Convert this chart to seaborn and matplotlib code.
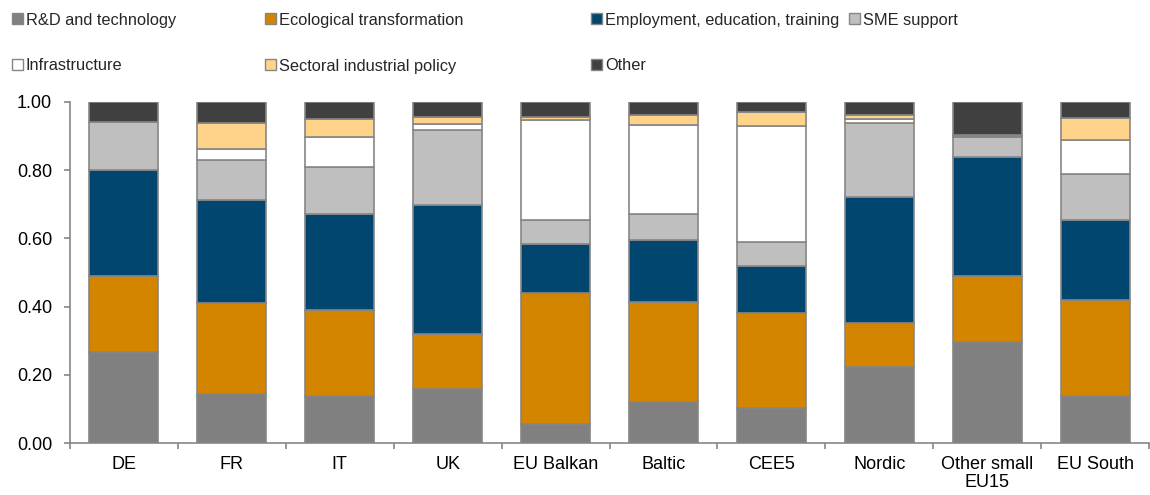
import matplotlib
matplotlib.use("Agg")
import matplotlib.pyplot as plt
import seaborn as sns
import numpy as np
from matplotlib.ticker import FixedLocator, FormatStrFormatter
from matplotlib.patches import Patch

sns.set_theme(style="white")
plt.rcParams['font.family'] = ['Liberation Sans', 'DejaVu Sans']

# 数据（各地区各类别占比）
regions = ['DE', 'FR', 'IT', 'UK', 'EU Balkan', 'Baltic', 'CEE5', 'Nordic',
           'Other small\nEU15', 'EU South']
rd = [0.267, 0.143, 0.139, 0.159, 0.057, 0.121, 0.104, 0.222, 0.296, 0.139]
eco = [0.223, 0.267, 0.251, 0.161, 0.384, 0.293, 0.277, 0.129, 0.194, 0.279]
employment = [0.310, 0.302, 0.281, 0.378, 0.143, 0.180, 0.139, 0.371, 0.349, 0.237]
sme = [0.140, 0.119, 0.139, 0.220, 0.071, 0.079, 0.070, 0.217, 0.057, 0.133]
infra = [0.000, 0.030, 0.088, 0.017, 0.292, 0.261, 0.339, 0.010, 0.004, 0.102]
sectoral = [0.000, 0.078, 0.053, 0.022, 0.010, 0.029, 0.042, 0.014, 0.004, 0.063]
other = [0.060, 0.061, 0.049, 0.043, 0.043, 0.037, 0.029, 0.037, 0.096, 0.047]

series = [
    ('R&D and technology', rd, '#808080'),
    ('Ecological transformation', eco, '#D38500'),
    ('Employment, education, training', employment, '#00466E'),
    ('SME support', sme, '#BFBFBF'),
    ('Infrastructure', infra, '#FFFFFF'),
    ('Sectoral industrial policy', sectoral, '#FFD38A'),
    ('Other', other, '#404040'),
]

edge = '#868686'
fig = plt.figure(figsize=(11.5, 4.95), dpi=100)
ax = fig.add_axes([70 / 1150, 1 - 443 / 495, 1079 / 1150, 341 / 495])

bottom = np.zeros(len(regions))
for name, vals, col in series:
    sns.barplot(x=regions, y=vals, order=regions, bottom=bottom, color=col,
                width=0.64, edgecolor=edge, linewidth=1.2, errorbar=None,
                saturation=1, ax=ax)
    bottom = bottom + np.array(vals)

# 坐标轴
ax.set_xlim(-0.5, len(regions) - 0.5)
ax.set_ylim(0, 1.0)
ax.yaxis.set_major_locator(FixedLocator(np.arange(0, 1.01, 0.2)))
ax.yaxis.set_major_formatter(FormatStrFormatter('%.2f'))
ax.xaxis.set_minor_locator(FixedLocator(np.arange(-0.5, len(regions), 1.0)))
ax.tick_params(axis='x', which='major', length=0, pad=9.5, labelsize=13, colors='black')
ax.tick_params(axis='x', which='minor', length=4, width=1.2, color=edge, direction='out', bottom=True)
ax.tick_params(axis='y', length=4.3, width=1.2, color=edge, direction='out', left=True,
               labelsize=13, pad=8.5)
for lbl in ax.get_xticklabels() + ax.get_yticklabels():
    lbl.set_color('black')
    lbl.set_linespacing(1.1)
sns.despine(ax=ax)
for s in ['left', 'bottom']:
    ax.spines[s].set_color(edge)
    ax.spines[s].set_linewidth(1.2)
ax.set_xlabel('')
ax.set_ylabel('')
ax.grid(False)

# 图例（手动摆放，模仿原图的不等列宽）
leg_pos = [(12, 20), (265, 20), (591, 20), (849, 20),
           (12, 66), (265, 66), (591, 66)]
for (name, vals, col), (px, py) in zip(series, leg_pos):
    h = Patch(facecolor=col, edgecolor=edge, linewidth=1.0)
    fig.legend([h], [name], loc='center left',
               bbox_to_anchor=(px / 1150, 1 - py / 495), frameon=False,
               fontsize=11.8, handlelength=0.65, handleheight=0.65,
               handletextpad=0.2, borderpad=0, borderaxespad=0)

fig.savefig('out.png', dpi=100)
